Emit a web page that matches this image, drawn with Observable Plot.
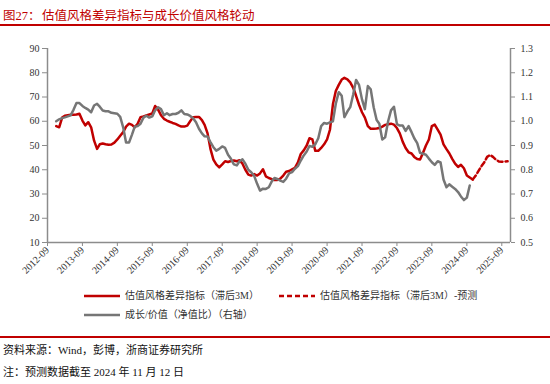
<!DOCTYPE html>
<html><head><meta charset="utf-8">
<script src="https://cdn.jsdelivr.net/npm/d3@7"></script>
<script src="https://cdn.jsdelivr.net/npm/@observablehq/plot@0.6"></script>
<style>
body{margin:0;background:#fff;}
#wrap{position:relative;width:550px;height:384px;overflow:hidden;font-family:"Liberation Serif","Noto Sans CJK SC",serif;color:#222;}
#title{position:absolute;left:3px;top:5px;font-size:12.5px;color:#c00000;white-space:nowrap;}
#title .t{position:absolute;left:39px;top:0;}
#tline{position:absolute;left:0;top:24px;width:550px;height:2px;background:#c00000;}
#chart{position:absolute;left:0;top:30px;}
.leg{position:absolute;font-size:10px;color:#333;white-space:nowrap;line-height:12px;}
.leg svg{position:absolute;left:0;top:0;}
#fline{position:absolute;left:0;top:336px;width:550px;height:1.5px;background:#c00000;}
.foot{position:absolute;left:3px;font-size:11px;color:#111;white-space:nowrap;}
</style></head>
<body>
<div id="wrap">
  <div id="title"><span>图27：</span><span class="t">估值风格差异指标与成长价值风格轮动</span></div>
  <div id="tline"></div>
  <div id="chart"></div>
  <div class="leg" style="left:84px;top:290px;"><svg width="37" height="12"><line x1="0" x2="36" y1="6" y2="6" stroke="#c00000" stroke-width="2.5"/></svg><span style="position:absolute;left:41px;top:0">估值风格差异指标（滞后3M）</span></div>
  <div class="leg" style="left:279px;top:290px;"><svg width="37" height="12"><line x1="0" x2="36" y1="6" y2="6" stroke="#c00000" stroke-width="2.5" stroke-dasharray="5,3"/></svg><span style="position:absolute;left:41px;top:0">估值风格差异指标（滞后3M）-预测</span></div>
  <div class="leg" style="left:84px;top:309px;"><svg width="37" height="12"><line x1="0" x2="36" y1="6" y2="6" stroke="#767676" stroke-width="2.5"/></svg><span style="position:absolute;left:41px;top:0">成长/价值（净值比）（右轴）</span></div>
  <div id="fline"></div>
  <div class="foot" style="top:341px;">资料来源：Wind，彭博，浙商证券研究所</div>
  <div class="foot" style="top:363px;">注：预测数据截至 2024 年 11 月 12 日</div>
</div>
<script>
// ---- data ----
const redStart = "2012-12";
const redValues = [
  58, 57.5, 61.5, 62.3, 62.5, 62.7, 62.7, 62.8, 63.1, 60.3,
  58.3, 59.6, 57.5, 52, 48.6, 50.5, 50.8, 50.5, 50.3, 50.4,
  51.2, 52.5, 54, 55.5, 57.8, 59, 58.5, 57.5, 59, 61.7,
  62, 62.4, 62.8, 63.2, 66.3, 64.8, 62.5, 61, 60.3, 59.8,
  59.3, 58.9, 58.3, 57.8, 57.8, 58.2, 60, 61.7, 61.8, 61.8,
  60.5, 58.5, 55, 48.6, 44.2, 42.2, 41, 42.2, 43.5, 43.2,
  43.6, 43.8, 43.5, 43.9, 42.5, 40, 38, 37.6, 38.2, 37.6,
  38.5, 40.2, 37.3, 36.6, 36.1, 35.8, 35.8, 36.3, 37.6, 39.2,
  39.5, 40.2, 40.8, 43, 46.5, 48, 50, 53, 52.5, 47.8,
  47.8, 49, 50.5, 52.5, 56.5, 67, 72.5, 75, 77.2, 77.9,
  77.3, 76, 73.8, 70.5, 66.8, 63.7, 61.5, 58, 56.9, 56.9,
  57, 57.2, 57.8, 58.5, 58.8, 59, 58.6, 57.2, 55, 51.5,
  49, 47.2, 46.7, 45.3, 44.4, 44.2, 47, 50, 52.5, 58,
  58.6, 56.5, 54.5, 50.5, 48.5, 46.8, 44.5, 42.5, 41.2, 42,
  40.6, 37.6, 36.8, 36
];
const forecastStart = "2024-11";
const forecastValues = [36, 37.5, 39.5, 41.5, 43, 45.3, 46.1, 45.3, 44.2, 43.4, 43.3, 43.4, 43.5];
const grayStart = "2012-12";
const grayValues = [
  1.0, 1.008, 1.013, 1.016, 1.02, 1.024, 1.048, 1.075, 1.075, 1.063,
  1.055, 1.048, 1.037, 1.065, 1.072, 1.06, 1.044, 1.041, 1.041, 1.035,
  1.033, 1.031, 1.018, 0.975, 0.912, 0.912, 0.945, 0.977, 0.98, 0.99,
  1.015, 1.023, 1.015, 1.02, 1.045, 1.058, 1.05, 1.025, 1.033, 1.025,
  1.03, 1.03, 1.035, 1.045, 1.03, 1.028, 1.022, 1.012, 0.996, 0.969,
  0.95, 0.938, 0.937, 0.914, 0.893, 0.879, 0.886, 0.896, 0.89, 0.862,
  0.845, 0.822, 0.818, 0.835, 0.843, 0.825, 0.8, 0.79, 0.775, 0.742,
  0.714, 0.722, 0.721, 0.728, 0.752, 0.766, 0.762, 0.755, 0.75, 0.763,
  0.785, 0.79, 0.804, 0.815, 0.838, 0.859, 0.875, 0.898, 0.895, 0.905,
  0.93, 0.98, 0.993, 0.99, 0.995, 1.0, 1.072, 1.12, 1.105, 1.017,
  1.04, 1.058, 1.11, 1.17, 1.15, 1.09, 1.05, 1.145, 1.132, 1.058,
  1.005, 0.99, 0.925, 0.934, 1.0, 1.045, 1.06, 0.988, 0.982, 0.982,
  0.96, 0.98, 0.955, 0.93, 0.91, 0.87, 0.866, 0.862, 0.846, 0.831,
  0.82, 0.835, 0.83, 0.76, 0.728, 0.74, 0.73, 0.721, 0.708, 0.69,
  0.675, 0.685, 0.735
];
const xTickLabels = ["2012-09","2013-09","2014-09","2015-09","2016-09","2017-09","2018-09","2019-09","2020-09","2021-09","2022-09","2023-09","2024-09","2025-09"];
const leftTicks = [10, 20, 30, 40, 50, 60, 70, 80, 90];
const rightTicks = [0.5, 0.6, 0.7, 0.8, 0.9, 1.0, 1.1, 1.2, 1.3];

// ---- helpers ----
const parseYM = s => { const [y, m] = s.split("-").map(Number); return new Date(Date.UTC(y, m - 1, 1)); };
const monthSeq = (start, values) => {
  const d0 = parseYM(start);
  return values.map((v, i) => ({date: new Date(Date.UTC(d0.getUTCFullYear(), d0.getUTCMonth() + i, 1)), value: v}));
};
// right axis [0.5,1.3] mapped onto left axis [10,90]
const toLeft = v => 10 + (v - 0.5) * 100;
const fromLeft = v => (v - 10) / 100 + 0.5;

const red = monthSeq(redStart, redValues);
const forecast = monthSeq(forecastStart, forecastValues);
const gray = monthSeq(grayStart, grayValues).map(d => ({date: d.date, value: toLeft(d.value)}));

const xStart = parseYM("2012-09");
const xEnd = parseYM("2025-12");
const xTicks = xTickLabels.map(parseYM);

const RED = "#c00000", GRAY = "#767676", AX = "#8c8c8c";
const font = '"Liberation Serif","Noto Sans CJK SC",serif';

const chart = Plot.plot({
  width: 550, height: 260,
  marginTop: 18, marginBottom: 48, marginLeft: 47, marginRight: 40,
  x: {type: "utc", domain: [xStart, xEnd]},
  y: {domain: [10, 90]},
  style: {fontFamily: font, fontSize: "10px", color: "#333", background: "transparent"},
  marks: [
    Plot.ruleX([xStart], {stroke: AX, strokeWidth: 1.5}),
    Plot.ruleX([xEnd], {stroke: AX, strokeWidth: 1.5}),
    Plot.ruleY([10], {stroke: AX, strokeWidth: 1.5}),
    Plot.axisY({ticks: leftTicks, tickSize: 5, tickPadding: 3, stroke: AX, fill: "#333", label: null}),
    Plot.axisY({anchor: "right", ticks: rightTicks.map(toLeft), tickFormat: d => fromLeft(d).toFixed(1), tickSize: 4, tickPadding: 6, stroke: AX, fill: "#333", label: null}),
    Plot.axisX({ticks: xTicks, tickFormat: d3.utcFormat("%Y-%m"), tickRotate: -45, tickSize: 4, tickPadding: 2, stroke: AX, fill: "#333", label: null}),
    Plot.lineY(red, {x: "date", y: "value", stroke: RED, strokeWidth: 2.5}),
    Plot.lineY(forecast, {x: "date", y: "value", stroke: RED, strokeWidth: 2.5, strokeDasharray: "5,3"}),
    Plot.lineY(gray, {x: "date", y: "value", stroke: GRAY, strokeWidth: 2.5})
  ]
});
document.getElementById("chart").appendChild(chart);
</script>
</body></html>
